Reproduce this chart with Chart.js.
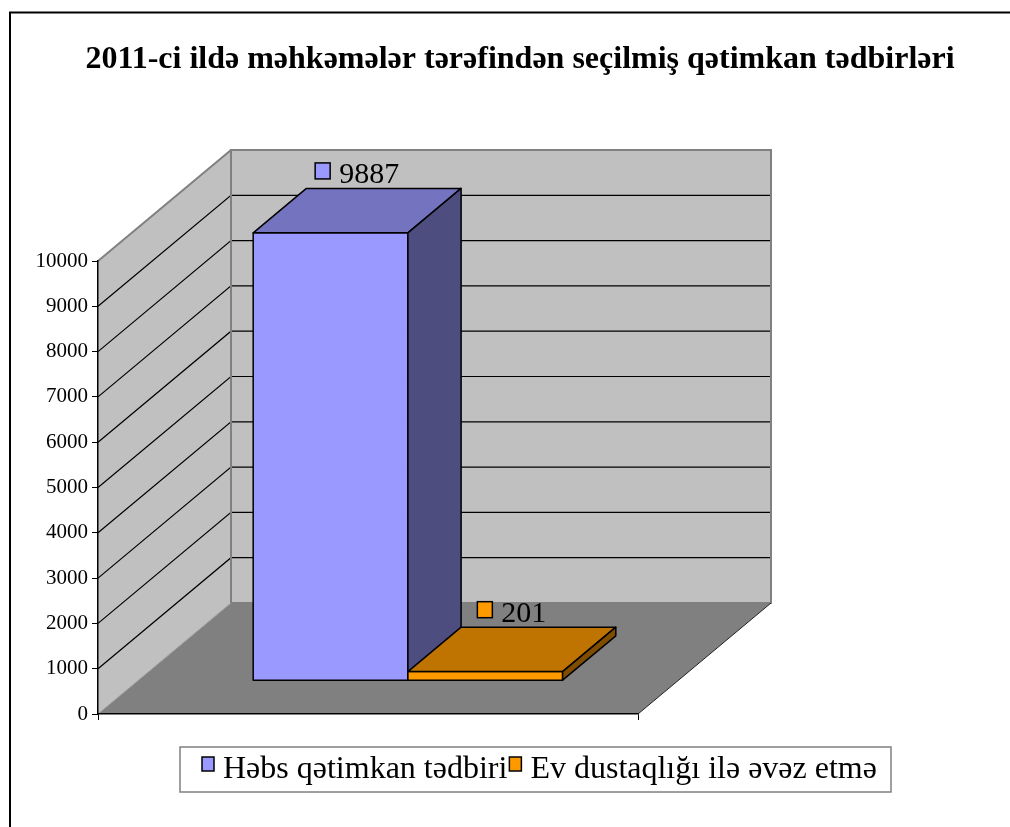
<!DOCTYPE html>
<html>
<head>
<meta charset="utf-8">
<script src="https://cdn.jsdelivr.net/npm/chart.js@4.4.1/dist/chart.umd.min.js"></script>
<style>
  body { margin: 0; background: #fff; }
  canvas { display: block; }
</style>
</head>
<body>
<canvas id="myChart" width="1010" height="827"></canvas>
<script>
const chartTitle = '2011-ci ildə məhkəmələr tərəfindən seçilmiş qətimkan tədbirləri'
const categories = ['']
const seriesNames = ['Həbs qətimkan tədbiri', 'Ev dustaqlığı ilə əvəz etmə']
const habsValues = [9887]
const evValues = [201]
const yTicks = [0, 1000, 2000, 3000, 4000, 5000, 6000, 7000, 8000, 9000, 10000]

// excel style 3d shading: front, top (darker), side (darkest)
const frontColors = ['#9999ff', '#ff9900']
const topColors = ['#7373bf', '#bf7300']
const sideColors = ['#4d4d80', '#804d00']

// depth of the box (front plane -> back wall)
const depthX = 133
const depthY = -111
const barFront = 0.3
const barBack = 0.7

const serif = '"Liberation Serif", "Times New Roman", serif'

const line = (ctx, pts, close) => {
  ctx.beginPath()
  ctx.moveTo(pts[0][0], pts[0][1])
  for (let i = 1; i < pts.length; i++) ctx.lineTo(pts[i][0], pts[i][1])
  if (close) ctx.closePath()
}

const barBox = (bar) => {
  const p = bar.getProps(['x', 'y', 'base', 'width'], true)
  const x0 = p.x - p.width / 2 + depthX * barFront
  const x1 = p.x + p.width / 2 + depthX * barFront
  const y0 = p.y + depthY * barFront
  const y1 = p.base + depthY * barFront
  const bx = depthX * (barBack - barFront)
  const by = depthY * (barBack - barFront)
  return { x0, x1, y0, y1, bx, by }
}

const walls = {
  id: 'walls',
  beforeDraw(chart) {
    const ctx = chart.ctx
    const { left, right, top, bottom } = chart.chartArea
    const y = chart.scales.y

    ctx.save()
    // outer frame
    ctx.strokeStyle = '#000'
    ctx.lineWidth = 2
    ctx.strokeRect(10, 12.5, 1200, 1000)

    // back wall
    ctx.fillStyle = '#c0c0c0'
    ctx.fillRect(left + depthX, top + depthY, right - left, bottom - top)
    // side wall
    line(ctx, [[left, top], [left + depthX, top + depthY], [left + depthX, bottom + depthY], [left, bottom]], true)
    ctx.fill()
    // floor
    ctx.fillStyle = '#808080'
    line(ctx, [[left, bottom], [left + depthX, bottom + depthY], [right + depthX, bottom + depthY], [right, bottom]], true)
    ctx.fill()

    // gridlines on side + back wall
    ctx.strokeStyle = '#000'
    ctx.lineWidth = 1.2
    y.ticks.forEach((t) => {
      if (t.value === y.min || t.value === y.max) return
      const py = y.getPixelForValue(t.value)
      line(ctx, [[left, py], [left + depthX, py + depthY], [right + depthX, py + depthY]])
      ctx.stroke()
    })

    // wall edges
    ctx.strokeStyle = '#808080'
    ctx.lineWidth = 2
    ctx.strokeRect(left + depthX, top + depthY, right - left, bottom - top)
    line(ctx, [[left, top], [left + depthX, top + depthY]])
    ctx.stroke()
    ctx.lineWidth = 1
    ctx.strokeStyle = '#9a9a9a'
    line(ctx, [[left, bottom], [left + depthX, bottom + depthY]])
    ctx.stroke()

    // floor right edge
    ctx.strokeStyle = '#222'
    ctx.lineWidth = 1
    line(ctx, [[right, bottom], [right + depthX, bottom + depthY]])
    ctx.stroke()
    ctx.restore()
  },
  beforeDatasetsDraw(chart) {
    const ctx = chart.ctx
    ctx.save()
    ctx.strokeStyle = '#000'
    ctx.lineWidth = 1.5
    ctx.lineJoin = 'round'
    chart.data.datasets.forEach((ds, i) => {
      chart.getDatasetMeta(i).data.forEach((bar) => {
        const b = barBox(bar)
        ctx.fillStyle = frontColors[i]
        line(ctx, [[b.x0, b.y0], [b.x1, b.y0], [b.x1, b.y1], [b.x0, b.y1]], true)
        ctx.fill()
        ctx.stroke()
        ctx.fillStyle = topColors[i]
        line(ctx, [[b.x0, b.y0], [b.x0 + b.bx, b.y0 + b.by], [b.x1 + b.bx, b.y0 + b.by], [b.x1, b.y0]], true)
        ctx.fill()
        ctx.stroke()
        ctx.fillStyle = sideColors[i]
        line(ctx, [[b.x1, b.y0], [b.x1 + b.bx, b.y0 + b.by], [b.x1 + b.bx, b.y1 + b.by], [b.x1, b.y1]], true)
        ctx.fill()
        ctx.stroke()
      })
    })
    ctx.restore()
    return false
  },
  afterDraw(chart) {
    const ctx = chart.ctx
    ctx.save()

    // title
    ctx.fillStyle = '#000'
    ctx.font = 'bold 32px ' + serif
    ctx.textAlign = 'center'
    ctx.textBaseline = 'alphabetic'
    ctx.fillText(chartTitle, 520, 68)

    // value labels with legend key
    ctx.textAlign = 'left'
    ctx.font = '30px ' + serif
    ctx.strokeStyle = '#000'
    ctx.lineWidth = 1.5
    chart.data.datasets.forEach((ds, i) => {
      chart.getDatasetMeta(i).data.forEach((bar, j) => {
        const b = barBox(bar)
        const txt = String(ds.data[j])
        const tw = ctx.measureText(txt).width
        const cx = (b.x0 + b.x1) / 2 + b.bx / 2
        const base = b.y0 + b.by - 5
        const sx = cx - (15 + 9 + tw) / 2
        ctx.fillStyle = frontColors[i]
        ctx.fillRect(sx, base - 20.5, 15, 16)
        ctx.strokeRect(sx, base - 20.5, 15, 16)
        ctx.fillStyle = '#000'
        ctx.fillText(txt, sx + 24, base)
      })
    })

    // legend
    ctx.strokeStyle = '#808080'
    ctx.lineWidth = 1.5
    ctx.strokeRect(180, 747, 711, 45)
    ctx.font = '32px ' + serif
    let lx = 202
    chart.data.datasets.forEach((ds, i) => {
      ctx.fillStyle = frontColors[i]
      ctx.fillRect(lx, 757, 12, 14)
      ctx.strokeStyle = '#000'
      ctx.strokeRect(lx, 757, 12, 14)
      ctx.fillStyle = '#000'
      ctx.fillText(ds.label, lx + 21, 778)
      lx += 21 + ctx.measureText(ds.label).width + 2
    })
    ctx.restore()
  },
}

const myChart = new Chart('myChart', {
  type: 'bar',
  data: {
    labels: categories,
    datasets: [
      { label: seriesNames[0], data: habsValues, backgroundColor: frontColors[0] },
      { label: seriesNames[1], data: evValues, backgroundColor: frontColors[1] },
    ],
  },
  options: {
    responsive: false,
    animation: false,
    categoryPercentage: 0.573,
    barPercentage: 1,
    layout: { padding: { left: 0, right: 372, top: 261, bottom: 103 } },
    plugins: {
      legend: { display: false },
      title: { display: false },
      tooltip: { enabled: false },
    },
    scales: {
      x: {
        grid: { drawOnChartArea: false, drawTicks: true, tickLength: 6, color: '#000' },
        border: { color: '#000', width: 1.5 },
        ticks: { display: false },
        afterFit: (s) => { s.height = 10 },
      },
      y: {
        min: 0,
        max: 10000,
        afterBuildTicks: (s) => { s.ticks = yTicks.map((v) => ({ value: v })) },
        afterFit: (s) => { s.width = 98 },
        grid: { drawOnChartArea: false, tickLength: 6, color: '#000' },
        border: { color: '#000', width: 1.5 },
        ticks: {
          font: { family: serif, size: 21 },
          color: '#000',
          padding: 4,
          callback: (v) => String(v),
        },
      },
    },
  },
  plugins: [walls],
})
</script>
</body>
</html>
